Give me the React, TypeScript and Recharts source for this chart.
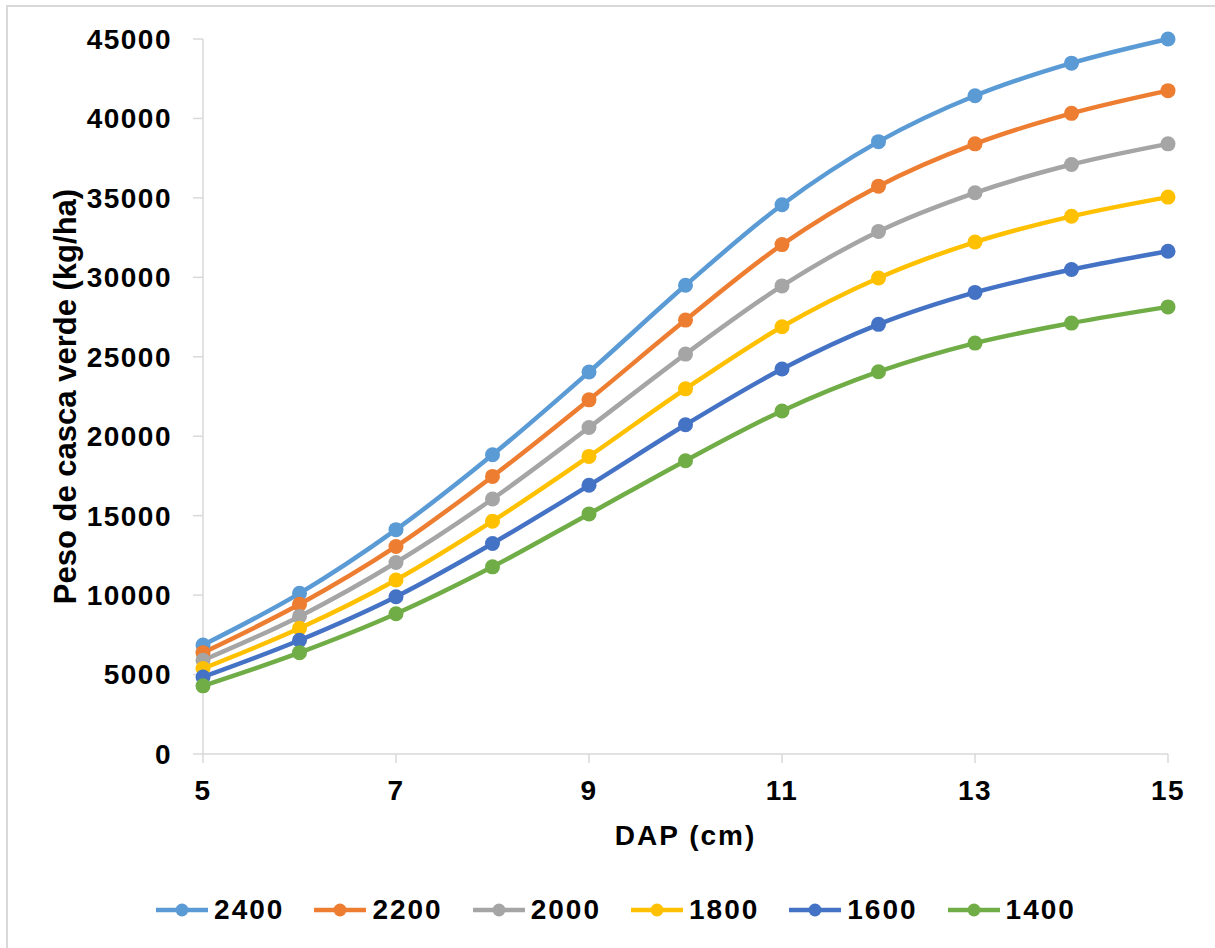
import React from 'react';
import { LineChart, Line, XAxis, YAxis, Legend } from 'recharts';

// DAP classes (cm)
const dap = [5, 6, 7, 8, 9, 10, 11, 12, 13, 14, 15];

// green bark weight (kg/ha) for each planting density
const p2400 = [6860, 10110, 14120, 18830, 24040, 29500, 34570, 38540, 41430, 43480, 45000];
const p2200 = [6380, 9420, 13060, 17470, 22290, 27310, 32060, 35740, 38400, 40320, 41750];
const p2000 = [5900, 8660, 12050, 16050, 20550, 25170, 29460, 32890, 35320, 37100, 38400];
const p1800 = [5380, 7910, 10950, 14650, 18730, 22980, 26890, 29960, 32220, 33840, 35050];
const p1600 = [4850, 7160, 9900, 13250, 16910, 20720, 24230, 27040, 29050, 30490, 31640];
const p1400 = [4290, 6380, 8830, 11780, 15110, 18460, 21590, 24060, 25860, 27120, 28140];

const xTicks = [5, 7, 9, 11, 13, 15];
const yTicks = [0, 5000, 10000, 15000, 20000, 25000, 30000, 35000, 40000, 45000];

const series = [
  { key: 's2400', name: '2400', values: p2400, color: '#5B9BD5' },
  { key: 's2200', name: '2200', values: p2200, color: '#ED7D31' },
  { key: 's2000', name: '2000', values: p2000, color: '#A5A5A5' },
  { key: 's1800', name: '1800', values: p1800, color: '#FFC000' },
  { key: 's1600', name: '1600', values: p1600, color: '#4472C4' },
  { key: 's1400', name: '1400', values: p1400, color: '#70AD47' },
];

const data = dap.map((x, i) => {
  const row: Record<string, number> = { dap: x };
  series.forEach((s) => {
    row[s.key] = s.values[i];
  });
  return row;
});

const FONT = '"Liberation Sans", Arial, sans-serif';
const AXIS_GRAY = '#d9d9d9';

const tickStyle = { fill: '#000', fontSize: 28, fontWeight: 700, fontFamily: FONT, letterSpacing: 1.5 };

function LegendRow() {
  return (
    <div
      style={{
        display: 'flex',
        justifyContent: 'center',
        alignItems: 'center',
        gap: 30,
        paddingLeft: 17,
        height: '100%',
        fontFamily: FONT,
      }}
    >
      {series.map((s) => (
        <div key={s.key} style={{ display: 'flex', alignItems: 'center' }}>
          <svg width={52} height={16}>
            <line x1={0} y1={8} x2={52} y2={8} stroke={s.color} strokeWidth={4.5} />
            <circle cx={26} cy={8} r={6.5} fill={s.color} />
          </svg>
          <span style={{ marginLeft: 6, fontSize: 28, fontWeight: 700, color: '#000', letterSpacing: 2 }}>
            {s.name}
          </span>
        </div>
      ))}
    </div>
  );
}

export default function App() {
  return (
    <div style={{ position: 'absolute', left: 0, top: 0, width: 1215, height: 948, background: '#fff', overflow: 'hidden' }}>
      {/* chart area frame */}
      <div
        style={{
          position: 'absolute',
          left: 6,
          top: 5,
          width: 1215,
          height: 948,
          borderTop: `2px solid ${AXIS_GRAY}`,
          borderLeft: `2px solid ${AXIS_GRAY}`,
        }}
      />
      <div style={{ position: 'absolute', left: 0, top: 0 }}>
        <LineChart width={1215} height={948} data={data} margin={{ top: 39, right: 47, bottom: 8, left: 20 }}>
          <XAxis
            dataKey="dap"
            type="number"
            domain={[5, 15]}
            ticks={xTicks}
            height={126}
            axisLine={{ stroke: AXIS_GRAY, strokeWidth: 1.5 }}
            tickLine={{ stroke: AXIS_GRAY, strokeWidth: 1.5 }}
            tickSize={9}
            tickMargin={17}
            tick={tickStyle}
            label={{
              value: 'DAP (cm)',
              position: 'insideBottom',
              offset: 35,
              style: { fill: '#000', fontSize: 28, fontWeight: 700, fontFamily: FONT, letterSpacing: 2 },
            }}
          />
          <YAxis
            type="number"
            domain={[0, 45000]}
            ticks={yTicks}
            width={183}
            axisLine={{ stroke: AXIS_GRAY, strokeWidth: 1.5 }}
            tickLine={{ stroke: AXIS_GRAY, strokeWidth: 1.5 }}
            tickSize={10}
            tickMargin={21}
            tick={tickStyle}
            label={{
              value: 'Peso de casca verde (kg/ha)',
              angle: -90,
              position: 'insideLeft',
              offset: 45,
              textAnchor: 'middle',
              style: { fill: '#000', fontSize: 31, fontWeight: 700, fontFamily: FONT, textAnchor: 'middle' },
            }}
          />
          <Legend
            verticalAlign="bottom"
            height={60}
            content={() => <LegendRow />}
            wrapperStyle={{ left: 0, width: 1215 }}
          />
          {series.map((s) => (
            <Line
              key={s.key}
              dataKey={s.key}
              name={s.name}
              type="monotone"
              stroke={s.color}
              strokeWidth={4.5}
              dot={{ r: 7.5, fill: s.color, stroke: s.color, strokeWidth: 0 }}
              activeDot={false}
              isAnimationActive={false}
            />
          ))}
        </LineChart>
      </div>
    </div>
  );
}
